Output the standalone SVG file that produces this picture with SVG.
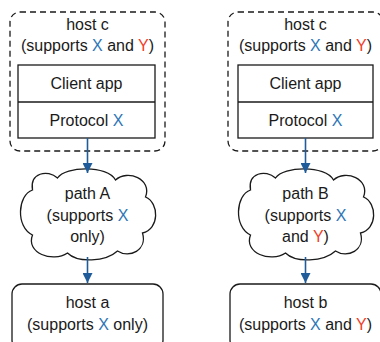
<svg xmlns="http://www.w3.org/2000/svg" width="380" height="342" viewBox="0 0 380 342">
<style>
  text { font-family: "Liberation Sans", Arial, sans-serif; font-size: 16px; fill: #1a1a1a; text-anchor: middle; }
  .x { fill: #2E75B6; }
  .y { fill: #F0402A; }
  .dash { fill: none; stroke: #1a1a1a; stroke-width: 1.3; stroke-dasharray: 6 4; }
  .box { fill: #ffffff; stroke: #1a1a1a; stroke-width: 1.3; }
  .conn { stroke: #1F5C99; stroke-width: 1.6; fill: none; marker-end: url(#ah); }
</style>
<defs>
  <marker id="ah" viewBox="0 0 10 10" refX="10" refY="5" markerWidth="10" markerHeight="10" markerUnits="userSpaceOnUse" orient="auto">
    <path d="M0,0 L10,5 L0,10 Z" fill="#1F5C99"/>
  </marker>
  <path id="cloud" d="M-55,-25 C-58,-42 -40,-46 -30,-37 C-22,-49 20,-50 28,-35 C40,-46 65,-36 58,-18 C72,-12 72,14 55,18 C60,35 42,44 30,36 C18,47 -10,48 -20,38 C-35,48 -62,38 -55,20 C-72,12 -70,-20 -55,-25 Z" fill="#ffffff" stroke="#1a1a1a" stroke-width="1.3"/>
</defs>

<g id="hostc-left">
  <rect class="dash" x="10" y="12" width="155" height="139" rx="10"/>
  <text x="87.5" y="30">host c</text>
  <text x="87.5" y="51">(supports <tspan class="x">X</tspan> and <tspan class="y">Y</tspan>)</text>
  <rect class="box" x="18" y="65" width="137" height="73"/>
  <line x1="18" y1="102" x2="155" y2="102" stroke="#1a1a1a" stroke-width="1.3"/>
  <text x="86.5" y="89">Client app</text>
  <text x="86.5" y="126">Protocol <tspan class="x">X</tspan></text>
</g>

<g id="hostc-right">
  <rect class="dash" x="228" y="12" width="155" height="139" rx="10"/>
  <text x="305.5" y="30">host c</text>
  <text x="305.5" y="51">(supports <tspan class="x">X</tspan> and <tspan class="y">Y</tspan>)</text>
  <rect class="box" x="238" y="65" width="135" height="73"/>
  <line x1="238" y1="102" x2="373" y2="102" stroke="#1a1a1a" stroke-width="1.3"/>
  <text x="305.5" y="89">Client app</text>
  <text x="305.5" y="126">Protocol <tspan class="x">X</tspan></text>
</g>

<g id="pathA">
  <use href="#cloud" transform="translate(87.5,215)"/>
  <text x="87.5" y="199">path A</text>
  <text x="87.5" y="221">(supports <tspan class="x">X</tspan></text>
  <text x="87.5" y="242">only)</text>
</g>

<g id="pathB">
  <use href="#cloud" transform="translate(305.5,215)"/>
  <text x="305.5" y="199">path B</text>
  <text x="305.5" y="221">(supports <tspan class="x">X</tspan></text>
  <text x="305.5" y="242">and <tspan class="y">Y</tspan>)</text>
</g>

<g id="hosta">
  <rect class="box" x="12" y="284" width="151" height="66" rx="10"/>
  <text x="87.5" y="308">host a</text>
  <text x="87.5" y="330">(supports <tspan class="x">X</tspan> only)</text>
</g>

<g id="hostb">
  <rect class="box" x="230" y="284" width="151" height="66" rx="10"/>
  <text x="305.5" y="308">host b</text>
  <text x="305.5" y="330">(supports <tspan class="x">X</tspan> and <tspan class="y">Y</tspan>)</text>
</g>

<g id="connectors">
  <line class="conn" x1="87.5" y1="138" x2="87.5" y2="173"/>
  <line class="conn" x1="87.5" y1="257" x2="87.5" y2="283"/>
  <line class="conn" x1="305.5" y1="138" x2="305.5" y2="173"/>
  <line class="conn" x1="305.5" y1="257" x2="305.5" y2="283"/>
</g>
</svg>
